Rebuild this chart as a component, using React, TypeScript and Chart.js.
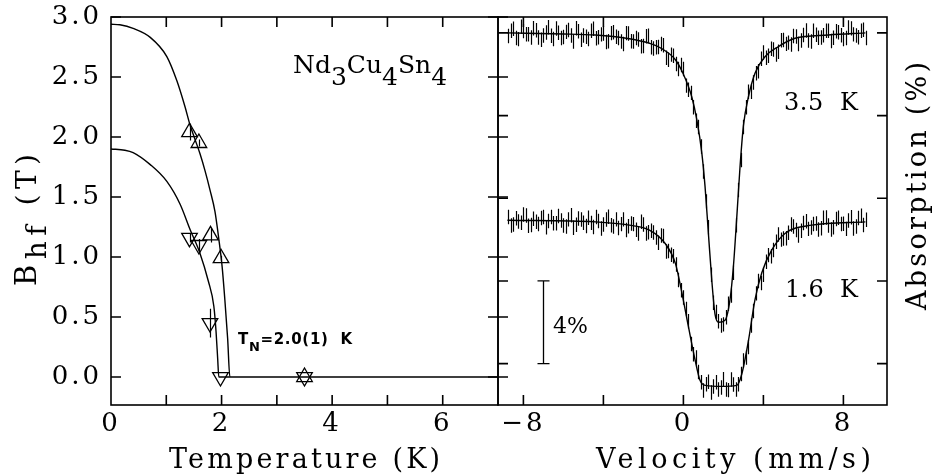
import React, { useEffect, useRef } from "react";
import { Chart, registerables } from "chart.js";
Chart.register(...registerables);

// ---------- Left panel: hyperfine field vs temperature ----------
const tempTickLabels = [0, 2, 4, 6];
const tempTickMarks = [1, 2, 3, 4, 5, 6];
const bhfTicks = [0, 0.5, 1.0, 1.5, 2.0, 2.5, 3.0];

const upT = [1.42, 1.59, 1.8, 1.99, 3.5];
const upB = [2.04, 1.95, 1.18, 0.99, 0.0];
const upErr = [0.07, 0.03, 0.06, 0.02, 0];

const downT = [1.42, 1.59, 1.79, 1.98, 3.5];
const downB = [1.16, 1.1, 0.45, 0.0, 0.0];
const downErr = [0.04, 0.05, 0.12, 0, 0];

const fitUpperT = [0, 0.16, 0.4, 0.71, 1.01, 1.19, 1.34, 1.43, 1.52, 1.61, 1.7, 1.79, 1.88, 1.95, 2.01, 2.06, 2.11, 2.15, 7.0];
const fitUpperB = [2.94, 2.935, 2.905, 2.83, 2.67, 2.47, 2.25, 2.1, 1.98, 1.86, 1.72, 1.56, 1.38, 1.15, 0.92, 0.64, 0.32, 0.0, 0.0];

const fitLowerT = [0, 0.25, 0.4, 0.71, 1.01, 1.25, 1.43, 1.61, 1.76, 1.86, 1.9, 1.93, 1.95, 2.15];
const fitLowerB = [1.9, 1.89, 1.87, 1.77, 1.63, 1.44, 1.23, 1.03, 0.8, 0.59, 0.38, 0.15, 0.0, 0.0];

// ---------- Right panel: Mössbauer spectra ----------
const velTickLabels = [-8, 0, 8];
const velTickMarks = [-8, -4, 0, 4, 8];
const absTicks = [0, 4, 8, 12, 16];

const velocityA = [
  -8.75, -8.5, -8.25, -8.0, -7.75, -7.5, -7.25, -7.0, -6.75, -6.5, -6.25, -6.0,
  -5.75, -5.5, -5.25, -5.0, -4.75, -4.5, -4.25, -4.0, -3.75, -3.5, -3.25, -3.0,
  -2.75, -2.5, -2.25, -2.0, -1.75, -1.5, -1.25, -1.0, -0.75, -0.5, -0.25, 0.0,
  0.25, 0.5, 0.75, 1.0, 1.25, 1.5, 1.75, 2.0, 2.25, 2.5, 2.75, 3.0,
  3.25, 3.5, 3.75, 4.0, 4.25, 4.5, 4.75, 5.0, 5.25, 5.5, 5.75, 6.0,
  6.25, 6.5, 6.75, 7.0, 7.25, 7.5, 7.75, 8.0, 8.25, 8.5, 8.75, 9.0,
];
const velocityB = [
  -8.625, -8.375, -8.125, -7.875, -7.625, -7.375, -7.125, -6.875, -6.625, -6.375, -6.125, -5.875,
  -5.625, -5.375, -5.125, -4.875, -4.625, -4.375, -4.125, -3.875, -3.625, -3.375, -3.125, -2.875,
  -2.625, -2.375, -2.125, -1.875, -1.625, -1.375, -1.125, -0.875, -0.625, -0.375, -0.125, 0.125,
  0.375, 0.625, 0.875, 1.125, 1.375, 1.625, 1.875, 2.125, 2.375, 2.625, 2.875, 3.125,
  3.375, 3.625, 3.875, 4.125, 4.375, 4.625, 4.875, 5.125, 5.375, 5.625, 5.875, 6.125,
  6.375, 6.625, 6.875, 7.125, 7.375, 7.625, 7.875, 8.125, 8.375, 8.625, 8.875, 9.125,
];

// 3.5 K spectrum (absorption %, offset 0)
const abs35KA = [
  0.15, -0.2, 0.3, -0.09, 0.06, -0.23, 0.22, 0.13, -0.27, 0.29, -0.01, 0.2,
  -0.14, 0.42, -0.08, 0.13, 0.29, -0.2, 0.21, 0.03, 0.4, -0.03, 0.25, 0.54,
  0.03, 0.42, 0.32, 0.63, 0.14, 0.75, 0.68, 0.6, 1.3, 1.1, 1.75, 1.75,
  2.75, 3.6, 4.55, 6.7, 9.4, 13.05, 13.95, 14.1, 13.1, 11.6, 7.6, 4.55,
  2.85, 2.4, 1.85, 0.95, 1.1, 0.8, 0.91, 0.34, 0.47, 0.15, 0.54, 0.1,
  0.37, -0.1, 0.23, 0.11, -0.1, 0.23, -0.03, 0.3, -0.26, 0.07, 0.21, -0.15,
];
const abs35KB = [
  -0.1, 0.25, -0.3, 0.06, 0.22, -0.13, 0.33, -0.02, 0.14, -0.21, 0.25, -0.05,
  0.12, -0.23, 0.33, 0.19, -0.11, 0.26, 0.07, 0.44, 0.01, 0.19, 0.42, 0.01,
  0.4, 0.25, 0.65, 0.16, 0.69, 0.69, 0.54, 1.2, 1.05, 1.5, 1.55, 2.55,
  2.9, 4.25, 5.5, 8.15, 11.7, 13.5, 14.15, 13.75, 12.7, 9.3, 6.15, 3.6,
  2.85, 1.95, 1.25, 1.2, 0.77, 1.05, 0.35, 0.53, 0.56, 0.17, 0.37, -0.12,
  0.41, 0.09, 0.22, -0.1, 0.39, -0.08, 0.11, 0.25, -0.22, 0.12, -0.1, 0.25,
];

// 1.6 K spectrum (absorption %, offset 9)
const abs16KA = [
  8.91, 9.27, 9.12, 8.78, 9.33, 8.99, 9.24, 8.9, 9.1, 9.21, 8.86, 9.32,
  9.02, 9.42, 8.98, 9.18, 8.94, 9.39, 9.1, 9.27, 8.89, 9.36, 9.44, 9.02,
  9.35, 9.25, 9.7, 9.27, 9.64, 9.65, 10.15, 9.82, 10.55, 10.8, 11.95, 12.8,
  13.95, 15.55, 16.4, 17.3, 16.88, 17.1, 17.25, 16.75, 17.28, 17.01, 17.0, 15.85,
  15.2, 13.45, 12.0, 11.7, 10.75, 10.5, 9.75, 9.95, 9.67, 9.37, 9.8, 9.2,
  9.48, 9.24, 9.51, 8.94, 9.32, 9.4, 8.94, 9.23, 9.07, 9.46, 8.95, 9.29,
];
const abs16KB = [
  9.32, 8.97, 9.18, 8.83, 9.29, 9.14, 8.95, 9.4, 8.91, 9.21, 9.07, 9.37,
  8.82, 9.28, 9.03, 9.34, 9.19, 8.9, 9.46, 9.03, 9.3, 9.02, 9.25, 9.53,
  9.22, 9.52, 9.13, 9.7, 9.57, 9.9, 9.8, 10.57, 10.73, 11.2, 12.45, 13.35,
  15.05, 15.7, 16.9, 17.0, 17.4, 16.9, 17.15, 17.25, 16.77, 17.25, 16.5, 15.7,
  14.15, 12.6, 12.1, 11.07, 10.8, 10.1, 10.0, 9.93, 9.27, 9.53, 9.57, 9.11,
  9.41, 9.22, 9.45, 8.93, 9.51, 9.0, 9.24, 9.48, 8.92, 9.36, 8.85, 9.04,
];
const absErr = 0.35;

const fit35KV = [-8.8, -6.0, -4.4, -3.5, -2.7, -2.2, -1.7, -1.1, -0.4, 0.0, 0.42, 0.67, 0.92, 1.08, 1.25, 1.43, 1.58, 1.77, 2.08, 2.33, 2.5, 2.67, 2.83, 3.0, 3.25, 3.58, 4.08, 4.75, 5.58, 7.25, 9.1];
const fit35KA = [0.0, 0.05, 0.1, 0.17, 0.28, 0.38, 0.5, 0.75, 1.3, 2.0, 3.1, 4.2, 5.8, 7.4, 9.7, 12.1, 13.6, 14.0, 13.9, 12.9, 11.3, 8.9, 6.5, 4.5, 3.1, 1.95, 1.15, 0.66, 0.26, 0.1, 0.0];

const fit16KV = [-8.8, -4.4, -2.7, -1.7, -0.9, -0.4, -0.1, 0.25, 0.58, 0.83, 1.1, 1.9, 2.67, 2.92, 3.25, 3.58, 3.92, 4.42, 5.08, 6.42, 9.1];
const fit16KA = [9.06, 9.14, 9.3, 9.54, 10.2, 11.15, 12.45, 14.2, 15.8, 16.8, 17.05, 17.1, 17.05, 16.5, 14.9, 12.9, 11.6, 10.5, 9.7, 9.3, 9.14];

const scaleBarV = -7.0;
const scaleBarFrom = 12;
const scaleBarTo = 16;

// ---------- drawing helpers ----------
const SERIF = '"DejaVu Serif", serif';
const TL = 10;

type Part = { t: string; font: string; dy: number };
// Draw rich text whose letter spacing is chosen so the text spans `target` px.
function drawFit(
  ctx: CanvasRenderingContext2D,
  parts: Part[],
  x: number,
  y: number,
  align: "left" | "center" | "right",
  target: number,
  rot = 0
) {
  ctx.save();
  ctx.translate(x, y);
  ctx.rotate(rot);
  ctx.textBaseline = "alphabetic";
  ctx.textAlign = "left";
  ctx.fillStyle = "#000";
  (ctx as any).letterSpacing = "0px";
  const natural = parts.reduce((s, p) => {
    ctx.font = p.font;
    return s + ctx.measureText(p.t).width;
  }, 0);
  const n = parts.reduce((s, p) => s + p.t.length, 0);
  const sp = n > 1 ? Math.max(0, (target - natural) / (n - 1)) : 0;
  const span = natural + sp * (n - 1);
  (ctx as any).letterSpacing = sp + "px";
  let cx = align === "left" ? 0 : align === "center" ? -span / 2 : -span;
  parts.forEach((p) => {
    ctx.font = p.font;
    ctx.fillText(p.t, cx, p.dy);
    cx += ctx.measureText(p.t).width;
  });
  ctx.restore();
}

const spacingPlugin = {
  id: "spacing",
  beforeDraw(chart: any) {
    chart.ctx.letterSpacing = "3px";
  },
};

const errorBarPlugin = {
  id: "errorBars",
  afterDatasetsDraw(chart: any) {
    const { ctx } = chart;
    const xs = chart.scales.x;
    const ys = chart.scales.y;
    ctx.save();
    const a = chart.chartArea;
    ctx.beginPath();
    ctx.rect(a.left, a.top, a.right - a.left, a.bottom - a.top);
    ctx.clip();
    chart.data.datasets.forEach((ds: any) => {
      if (ds.errors === undefined) return;
      ctx.strokeStyle = "#000";
      ctx.lineWidth = ds.errorWidth || 1.2;
      ctx.beginPath();
      ds.data.forEach((p: any, i: number) => {
        const e = Array.isArray(ds.errors) ? ds.errors[i] : ds.errors;
        if (!e) return;
        const px = Math.round(xs.getPixelForValue(p.x)) + 0.5;
        ctx.moveTo(px, ys.getPixelForValue(p.y - e));
        ctx.lineTo(px, ys.getPixelForValue(p.y + e));
      });
      ctx.stroke();
    });
    ctx.restore();
  },
};

const leftDecor = {
  id: "leftDecor",
  afterDraw(chart: any) {
    const { ctx, chartArea: a } = chart;
    const xs = chart.scales.x;
    const ys = chart.scales.y;
    ctx.save();
    ctx.strokeStyle = "#000";
    ctx.lineWidth = 1.6;
    ctx.strokeRect(a.left, a.top, a.right - a.left, a.bottom - a.top);
    ctx.beginPath();
    tempTickMarks.forEach((v) => {
      const px = xs.getPixelForValue(v);
      ctx.moveTo(px, a.bottom);
      ctx.lineTo(px, a.bottom - TL);
      ctx.moveTo(px, a.top);
      ctx.lineTo(px, a.top + TL);
    });
    bhfTicks.forEach((v) => {
      const py = ys.getPixelForValue(v);
      ctx.moveTo(a.left, py);
      ctx.lineTo(a.left + TL, py);
      ctx.moveTo(a.right - TL, py);
      ctx.lineTo(a.right + TL, py);
    });
    ctx.stroke();
    ctx.restore();

    const big = `27px ${SERIF}`;
    drawFit(ctx, [{ t: "Temperature (K)", font: big, dy: 0 }], (a.left + a.right) / 2, 468, "center", 271);
    drawFit(
      ctx,
      [
        { t: "B", font: `29px ${SERIF}`, dy: 0 },
        { t: "hf", font: `28px ${SERIF}`, dy: 10 },
        { t: " (T)", font: `28px ${SERIF}`, dy: 0 },
      ],
      36,
      220,
      "center",
      132,
      -Math.PI / 2
    );
    const f25 = `25px ${SERIF}`;
    drawFit(
      ctx,
      [
        { t: "Nd", font: f25, dy: 0 },
        { t: "3", font: f25, dy: 12 },
        { t: "Cu", font: f25, dy: 0 },
        { t: "4", font: f25, dy: 12 },
        { t: "Sn", font: f25, dy: 0 },
        { t: "4", font: f25, dy: 12 },
      ],
      293,
      73,
      "left",
      152
    );
    const fb = `bold 15px "DejaVu Sans", sans-serif`;
    drawFit(
      ctx,
      [
        { t: "T", font: fb, dy: 0 },
        { t: "N", font: `bold 13px "DejaVu Sans", sans-serif`, dy: 7 },
        { t: "=2.0(1)  K", font: fb, dy: 0 },
      ],
      238,
      344,
      "left",
      114
    );
  },
};

const rightDecor = {
  id: "rightDecor",
  afterDraw(chart: any) {
    const { ctx, chartArea: a } = chart;
    const xs = chart.scales.x;
    const ys = chart.scales.y;
    ctx.save();
    ctx.strokeStyle = "#000";
    ctx.lineWidth = 1.6;
    ctx.strokeRect(a.left, a.top, a.right - a.left, a.bottom - a.top);
    ctx.beginPath();
    velTickMarks.forEach((v) => {
      const px = xs.getPixelForValue(v);
      ctx.moveTo(px, a.bottom);
      ctx.lineTo(px, a.bottom - TL);
      ctx.moveTo(px, a.top);
      ctx.lineTo(px, a.top + TL);
    });
    absTicks.forEach((v) => {
      const py = ys.getPixelForValue(v);
      ctx.moveTo(a.left, py);
      ctx.lineTo(a.left + TL, py);
      ctx.moveTo(a.right - TL, py);
      ctx.lineTo(a.right, py);
    });
    ctx.stroke();
    // 4% scale bar
    ctx.lineWidth = 1.3;
    ctx.beginPath();
    const bx = Math.round(xs.getPixelForValue(scaleBarV)) + 0.5;
    const y1 = ys.getPixelForValue(scaleBarFrom);
    const y2 = ys.getPixelForValue(scaleBarTo);
    ctx.moveTo(bx, y1);
    ctx.lineTo(bx, y2);
    ctx.moveTo(bx - 6, y1);
    ctx.lineTo(bx + 6, y1);
    ctx.moveTo(bx - 6, y2);
    ctx.lineTo(bx + 6, y2);
    ctx.stroke();
    ctx.restore();

    const big = `27px ${SERIF}`;
    const f24 = `24px ${SERIF}`;
    drawFit(ctx, [{ t: "Velocity (mm/s)", font: big, dy: 0 }], 243.5, 468, "center", 275);
    drawFit(ctx, [{ t: "Absorption (%)", font: big, dy: 0 }], 436, 186, "center", 248, -Math.PI / 2);
    drawFit(ctx, [{ t: "3.5  K", font: f24, dy: 0 }], 368, 110, "right", 74);
    drawFit(ctx, [{ t: "1.6  K", font: f24, dy: 0 }], 368, 297, "right", 73);
    drawFit(ctx, [{ t: "4%", font: `22px ${SERIF}`, dy: 0 }], 63, 333, "left", 34);
  },
};

const tickFont = { family: '"DejaVu Serif", serif', size: 26 };

const lineDs = (label: string, xs: number[], ys: number[]) => ({
  label,
  data: xs.map((x, i) => ({ x, y: ys[i] })),
  showLine: true,
  pointRadius: 0,
  borderColor: "#000",
  borderWidth: 1.4,
  tension: 0.4,
  cubicInterpolationMode: "monotone",
});

const barDs = (label: string, xs: number[], ys: number[]) => ({
  label,
  data: xs.map((x, i) => ({ x, y: ys[i] })),
  showLine: false,
  pointRadius: 0,
  errors: absErr,
});

export default function App() {
  const leftRef = useRef<HTMLCanvasElement>(null);
  const rightRef = useRef<HTMLCanvasElement>(null);

  useEffect(() => {
    const toPts = (xs: number[], ys: number[]) => xs.map((x, i) => ({ x, y: ys[i] }));

    const left = new Chart(leftRef.current as HTMLCanvasElement, {
      type: "scatter",
      data: {
        datasets: [
          lineDs("fit upper", fitUpperT, fitUpperB) as any,
          lineDs("fit lower", fitLowerT, fitLowerB) as any,
          {
            label: "up",
            data: toPts(upT, upB),
            showLine: false,
            pointStyle: "triangle",
            pointRadius: 9,
            pointBorderColor: "#000",
            pointBackgroundColor: "rgba(0,0,0,0)",
            pointBorderWidth: 1.3,
            errors: upErr,
          } as any,
          {
            label: "down",
            data: toPts(downT, downB),
            showLine: false,
            pointStyle: "triangle",
            pointRotation: 180,
            pointRadius: 9,
            pointBorderColor: "#000",
            pointBackgroundColor: "rgba(0,0,0,0)",
            pointBorderWidth: 1.3,
            errors: downErr,
          } as any,
        ],
      },
      options: {
        responsive: false,
        animation: false,
        devicePixelRatio: 1,
        layout: { padding: { left: 0, top: 17, right: 22, bottom: 0 } },
        plugins: { legend: { display: false }, tooltip: { enabled: false } },
        scales: {
          x: {
            type: "linear",
            min: 0,
            max: 7,
            grid: { display: false },
            border: { display: false },
            ticks: { font: tickFont, color: "#000", padding: -4, maxRotation: 0, autoSkip: false },
            afterBuildTicks: (s: any) => {
              s.ticks = tempTickLabels.map((v) => ({ value: v }));
            },
            afterFit: (s: any) => {
              s.height = 70;
            },
          },
          y: {
            type: "linear",
            min: -0.233,
            max: 3.0,
            grid: { display: false },
            border: { display: false },
            ticks: {
              font: tickFont,
              color: "#000",
              padding: 1,
              autoSkip: false,
              callback: (v: any) => Number(v).toFixed(1),
            },
            afterBuildTicks: (s: any) => {
              s.ticks = bhfTicks.map((v) => ({ value: v }));
            },
            afterFit: (s: any) => {
              s.width = 111;
            },
          },
        },
      } as any,
      plugins: [spacingPlugin, errorBarPlugin, leftDecor],
    });

    const right = new Chart(rightRef.current as HTMLCanvasElement, {
      type: "scatter",
      data: {
        datasets: [
          lineDs("fit 3.5 K", fit35KV, fit35KA) as any,
          lineDs("fit 1.6 K", fit16KV, fit16KA) as any,
          barDs("3.5 K a", velocityA, abs35KA) as any,
          barDs("3.5 K b", velocityB, abs35KB) as any,
          barDs("1.6 K a", velocityA, abs16KA) as any,
          barDs("1.6 K b", velocityB, abs16KB) as any,
        ],
      },
      options: {
        responsive: false,
        animation: false,
        devicePixelRatio: 1,
        layout: { padding: { left: 8, top: 17, right: 45, bottom: 0 } },
        plugins: { legend: { display: false }, tooltip: { enabled: false } },
        scales: {
          x: {
            type: "linear",
            min: -9.27,
            max: 10.18,
            grid: { display: false },
            border: { display: false },
            ticks: {
              font: tickFont,
              color: "#000",
              padding: -4,
              maxRotation: 0,
              autoSkip: false,
              callback: (v: any) => (Number(v) < 0 ? "\u2212" + Math.abs(Number(v)) : String(v)),
            },
            afterBuildTicks: (s: any) => {
              s.ticks = velTickLabels.map((v) => ({ value: v }));
            },
            afterFit: (s: any) => {
              s.height = 70;
            },
          },
          y: {
            type: "linear",
            min: -0.77,
            max: 18.0,
            reverse: true,
            display: false,
          },
        },
      } as any,
      plugins: [spacingPlugin, errorBarPlugin, rightDecor],
    });

    return () => {
      left.destroy();
      right.destroy();
    };
  }, []);

  return (
    <div style={{ position: "fixed", left: 0, top: 0, width: 932, height: 475, background: "#fff" }}>
      <canvas
        ref={leftRef}
        width={520}
        height={475}
        style={{ position: "absolute", left: 0, top: 0, width: 520, height: 475 }}
      />
      <canvas
        ref={rightRef}
        width={442}
        height={475}
        style={{ position: "absolute", left: 490, top: 0, width: 442, height: 475 }}
      />
    </div>
  );
}
